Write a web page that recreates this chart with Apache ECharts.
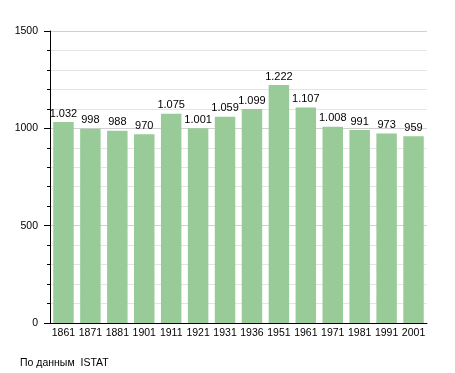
<!DOCTYPE html>
<html><head><meta charset="utf-8">
<script src="https://cdn.jsdelivr.net/npm/echarts@6/dist/echarts.min.js"></script>
<style>html,body{margin:0;padding:0;background:#fff}#c{width:455px;height:373px}</style>
</head><body><div id="c"></div>
<script>
const years = ['1861','1871','1881','1901','1911','1921','1931','1936','1951','1961','1971','1981','1991','2001'];
const population = [1032,998,988,970,1075,1001,1059,1099,1222,1107,1008,991,973,959];
const yTicks = [0,500,1000,1500];
const chart = echarts.init(document.getElementById('c'));
const fmt = v => v >= 1000 ? Math.floor(v/1000) + '.' + String(v%1000).padStart(3,'0') : String(v);
chart.setOption({
  animation:false,
  textStyle:{fontFamily:'Liberation Sans, Arial, sans-serif'},
  grid:{left:50,right:28,top:31,bottom:50},
  xAxis:{type:'category',data:years,
    axisLine:{lineStyle:{color:'#000'}},axisTick:{show:false},
    axisLabel:{color:'#000',fontSize:10.5,margin:5,interval:0}},
  yAxis:{type:'value',min:yTicks[0],max:yTicks[yTicks.length-1],interval:500,
    axisLine:{show:true,lineStyle:{color:'#000'}},
    axisTick:{show:true,length:6,lineStyle:{color:'#000'}},
    minorTick:{show:true,splitNumber:5,length:3,lineStyle:{color:'#000'}},
    splitLine:{lineStyle:{color:'#d0d0d0'}},
    minorSplitLine:{show:true,lineStyle:{color:'#e4e4e4'}},
    axisLabel:{color:'#000',fontSize:10.5,margin:12,formatter:v=>String(v)}},
  series:[{type:'bar',data:population,barCategoryGap:'24%',
    itemStyle:{color:'#98cb98'},
    label:{show:true,position:'top',color:'#000',fontSize:11,distance:3,
      formatter:p=>fmt(p.value)}}]
});
</script>
<div style="position:absolute;left:20px;top:356px;font:10.5px 'Liberation Sans',Arial,sans-serif;color:#000">По данным&nbsp; ISTAT</div>
</body></html>
